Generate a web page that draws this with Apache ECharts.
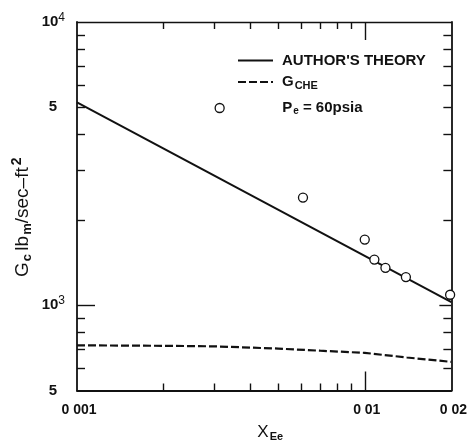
<!DOCTYPE html>
<html><head><meta charset="utf-8">
<script src="https://cdn.jsdelivr.net/npm/echarts@6/dist/echarts.min.js"></script>
<style>html,body{margin:0;padding:0;background:#fff}#c{width:470px;height:447px}</style>
</head><body><div id="c"></div>
<script>
// ---- data ----
const xTheory = [0.001, 0.02];
const yTheory = [5200, 1025];
const xChe = [0.001, 0.002, 0.003, 0.005, 0.007, 0.01, 0.014, 0.02];
const yChe = [722, 719, 716, 703, 691, 679, 654, 631];
const xObs = [0.0061, 0.01, 0.0108, 0.0118, 0.0139, 0.0198];
const yObs = [2400, 1705, 1450, 1355, 1257, 1089];

// ---- axis ticks and labels ----
const xMinorTicks = [0.002, 0.003, 0.004, 0.005, 0.006, 0.007, 0.008, 0.009];
const xMajorTicks = [0.01];
const xLabelValues = [0.001, 0.01, 0.02];
const xLabelTexts = ['0 001', '0 01', '0 02'];
const yMinorTicks = [600, 700, 800, 900, 2000, 3000, 4000, 5000, 6000, 7000, 8000, 9000];
const yMajorTicks = [1000];
const yLabelValues = [500, 1000, 5000, 10000];
const yLabelTexts = ['{f|5}', '{n|10}{sup|3}', '{f|5}', '{n|10}{sup|4}'];

const X_MIN = 0.001, X_MAX = 0.02, Y_MIN = 500, Y_MAX = 10000;
const L = v => Math.log10(v);
const ink = '#111';
const FONT = 'Liberation Sans';

function labelFor(values, texts) {
  return v => {
    for (let i = 0; i < values.length; i++) if (Math.abs(L(values[i]) - v) < 1e-6) return texts[i];
    return '';
  };
}
function overlay(dim, position, ticks, length, extra) {
  const base = {
    type: 'value', position: position,
    min: dim === 'x' ? L(X_MIN) : L(Y_MIN),
    max: dim === 'x' ? L(X_MAX) : L(Y_MAX),
    axisLine: { show: false },
    axisTick: { show: true, inside: true, length: length, customValues: ticks.map(L), lineStyle: { color: ink, width: 1.4 } },
    axisLabel: { show: false },
    splitLine: { show: false },
    silent: true
  };
  return Object.assign(base, extra || {});
}
const hiddenSymbol = { color: 'rgba(0,0,0,0)', borderWidth: 0, opacity: 0 };
const chart = echarts.init(document.getElementById('c'), null, { renderer: 'canvas' });
chart.setOption({
  animation: false,
  backgroundColor: '#fff',
  grid: { left: 77, right: 18, top: 22, bottom: 55 },
  xAxis: [
    { type: 'log', logBase: 10, min: X_MIN, max: X_MAX, position: 'bottom',
      axisLine: { show: true, lineStyle: { color: ink, width: 1.8 } },
      axisTick: { show: false }, axisLabel: { show: false }, splitLine: { show: false },
      name: '{x|X}{s|Ee}', nameLocation: 'middle', nameGap: 33,
      nameTextStyle: { color: ink, fontFamily: FONT, padding: [0, 0, 0, 12], rich: {
        x: { fontSize: 17, fontFamily: FONT, color: ink, lineHeight: 18 },
        s: { fontSize: 11, fontFamily: FONT, color: ink, fontWeight: 'bold', lineHeight: 11, padding: [8, 0, 0, 1] } } } },
    overlay('x', 'bottom', xMinorTicks, 7),
    overlay('x', 'bottom', xMajorTicks, 19, {
      axisLabel: { show: true, margin: 13, customValues: xLabelValues.map(L), formatter: labelFor(xLabelValues, xLabelTexts),
        color: ink, fontFamily: FONT, fontSize: 14, fontWeight: 'bold', padding: [0, 0, 0, 4] } }),
    overlay('x', 'top', xMinorTicks, 7, { axisLine: { show: true, lineStyle: { color: ink, width: 1.4 } } }),
    overlay('x', 'top', xMajorTicks, 18)
  ],
  yAxis: [
    { type: 'log', logBase: 10, min: Y_MIN, max: Y_MAX, position: 'left',
      axisLine: { show: true, lineStyle: { color: ink, width: 1.8 } },
      axisTick: { show: false }, axisLabel: { show: false }, splitLine: { show: false },
      name: '{g|G}{s|c} {g|lb}{s|m}{g|/sec\u2013ft}{sup|2}', nameLocation: 'middle', nameGap: 44, nameRotate: 90,
      nameTextStyle: { color: ink, fontFamily: FONT, padding: [0, 22, 0, 0], rich: {
        g: { fontSize: 19, fontFamily: FONT, color: ink, lineHeight: 20 },
        s: { fontSize: 13, fontFamily: FONT, color: ink, fontWeight: 'bold', lineHeight: 13, padding: [9, 0, 0, 1] },
        sup: { fontSize: 14, fontFamily: FONT, color: ink, fontWeight: 'bold', lineHeight: 14, padding: [0, 0, 12, 2] } } } },
    overlay('y', 'left', yMinorTicks, 8),
    overlay('y', 'left', yMajorTicks, 18, {
      axisLabel: { show: true, margin: 12, customValues: yLabelValues.map(L), formatter: labelFor(yLabelValues, yLabelTexts),
        color: ink, fontFamily: FONT, rich: {
          n: { fontSize: 15, fontFamily: FONT, color: ink, lineHeight: 16, fontWeight: 'bold' },
          f: { fontSize: 15, fontFamily: FONT, color: ink, lineHeight: 16, fontWeight: 'bold', padding: [0, 8, 0, 0] },
          sup: { fontSize: 12, fontFamily: FONT, color: ink, lineHeight: 12, padding: [0, 0, 9, 0] } } } }),
    overlay('y', 'right', yMinorTicks, 8, { axisLine: { show: true, lineStyle: { color: ink, width: 1.8 } } }),
    overlay('y', 'right', yMajorTicks, 12)
  ],
  legend: [
    { data: ["AUTHOR'S THEORY"], left: 237, top: 53, padding: 0, itemWidth: 35, itemHeight: 14, selectedMode: false,
      itemStyle: hiddenSymbol, lineStyle: { width: 2 },
      textStyle: { color: ink, fontFamily: FONT, fontSize: 15, fontWeight: 'bold', padding: [0, 0, 0, 4] } },
    { data: ['GCHE'], left: 237, top: 73, padding: 0, itemWidth: 35, itemHeight: 14, selectedMode: false,
      itemStyle: hiddenSymbol, lineStyle: { width: 2 },
      formatter: '{g|G}{s|CHE}',
      textStyle: { color: ink, fontFamily: FONT, padding: [0, 0, 0, 4], rich: {
        g: { fontSize: 15, fontFamily: FONT, color: ink, lineHeight: 16, fontWeight: 'bold' },
        s: { fontSize: 11, fontFamily: FONT, color: ink, fontWeight: 'bold', lineHeight: 11, padding: [7, 0, 0, 1] } } } },
    { data: ['Pe = 60psia'], left: 214.5, top: 100, padding: 0, itemWidth: 9, itemHeight: 9, selectedMode: false,
      itemStyle: { borderWidth: 1.3 },
      formatter: '{g|P}{s|e}{g| = 60psia}',
      textStyle: { color: ink, fontFamily: FONT, padding: [0, 0, 0, 53], rich: {
        g: { fontSize: 15, fontFamily: FONT, color: ink, lineHeight: 16, fontWeight: 'bold' },
        s: { fontSize: 10, fontFamily: FONT, color: ink, fontWeight: 'bold', lineHeight: 10, padding: [6, 0, 0, 1] } } } }
  ],
  series: [
    { name: "AUTHOR'S THEORY", type: 'line', symbol: 'none', silent: true,
      lineStyle: { color: ink, width: 2 }, itemStyle: { color: ink },
      data: xTheory.map((x, i) => [x, yTheory[i]]) },
    { name: 'GCHE', type: 'line', symbol: 'none', silent: true,
      lineStyle: { color: ink, width: 2.2, type: [8, 3] }, itemStyle: { color: ink },
      data: xChe.map((x, i) => [x, yChe[i]]) },
    { name: 'Pe = 60psia', type: 'scatter', symbol: 'circle', symbolSize: 9, silent: true, z: 5,
      itemStyle: { color: '#fff', borderColor: ink, borderWidth: 1.3, opacity: 1 },
      data: xObs.map((x, i) => [x, yObs[i]]) }
  ]
});
</script></body></html>
